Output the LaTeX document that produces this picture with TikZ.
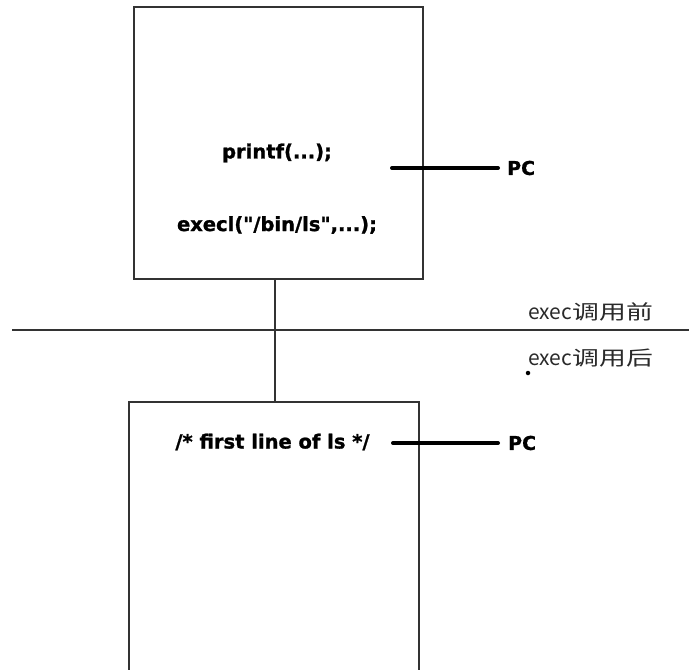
\documentclass[tikz,border=0pt]{standalone}
\usepackage{fontspec}
\setmainfont{DejaVu Sans}
\newfontfamily\heavy[FakeBold=1.2]{DejaVu Sans Bold}
\newfontfamily\cjk{Noto Sans CJK SC}
\newcommand{\widecjk}[1]{\hspace{0.5pt}\scalebox{1.28}[0.95]{#1}}
\definecolor{edge}{HTML}{333333}
\definecolor{lbl}{HTML}{2a2a2a}
\begin{document}
\begin{tikzpicture}[x=1pt,y=-1pt,
  box/.style={draw=edge,line width=1.2pt,minimum width=#1,inner sep=0pt},
  code/.style={font=\heavy\fontsize{19.5}{21}\selectfont,inner sep=0pt},
  pcline/.style={line width=4pt,line cap=round},
  pclabel/.style={font=\heavy\fontsize{19}{21}\selectfont,inner sep=0pt,anchor=west},
  phase/.style={font=\cjk\fontsize{21}{23}\selectfont,text=lbl,inner sep=0pt,anchor=west},
  dotmark/.style={circle,fill=black,inner sep=0pt,minimum size=4.5pt}]
\useasboundingbox (0,0) rectangle (689,670);
% boxes
\node[box=289pt,minimum height=272pt] (top) at (278.5,143) {};
\node[box=290pt,minimum height=278pt] (bot) at (274,541) {};
% connector between boxes
\coordinate (cx) at (275,0);
\draw[edge,line width=1.2pt] (top.south -| cx) -- (bot.north -| cx);
% divider
\coordinate (dl) at (12,330);
\coordinate (dr) at (689,330);
\draw[edge,line width=1.3pt] (dl) -- (dr);
% texts
\node[code] (t1) at (277,153) {printf(...);};
\node[code] (t2) at (277,225) {execl({\char34}/bin/ls{\char34},...);};
\node[code] (t3) at (272.5,442) {/* first line of ls */};
% PC markers
\coordinate (p1a) at (392,168);
\coordinate (p1b) at (498,168);
\node[pclabel] (pc1) at (507,168) {PC};
\draw[pcline] (p1a) -- (p1b);
\coordinate (p2a) at (393,443);
\coordinate (p2b) at (498,443);
\node[pclabel] (pc2) at (508,443) {PC};
\draw[pcline] (p2a) -- (p2b);
% phase labels
\node[phase] (before) at (528,312) {exec\widecjk{调用前}};
\node[phase] (after) at (528,358) {exec\widecjk{调用后}};
\node[dotmark] (dot) at (528,373) {};
\end{tikzpicture}
\end{document}
